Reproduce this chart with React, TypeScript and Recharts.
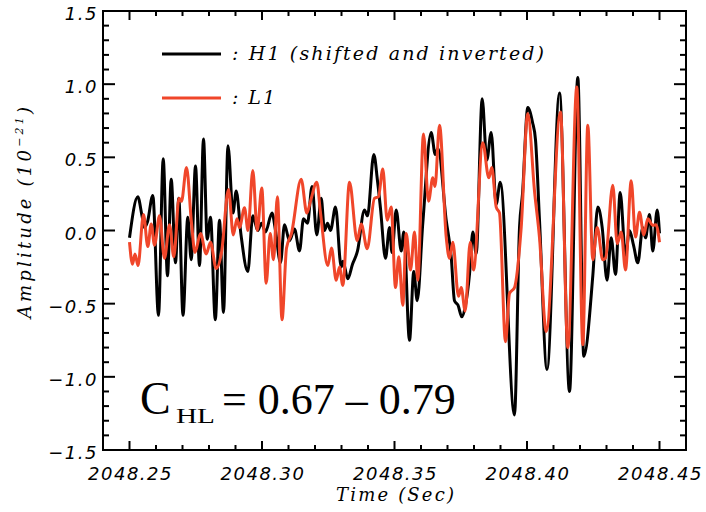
// H1 / L1 strain comparison chart
// Two overlaid waveforms, IDL-style boxed axes with inward ticks

import { LineChart, Line, XAxis, YAxis, ReferenceArea } from 'recharts'

// H1 (shifted and inverted), black
const h1Time = [
  2048.25, 2048.25313, 2048.25472, 2048.25566, 2048.25679, 2048.25879, 2048.26094, 2048.26272,
  2048.26434, 2048.26574, 2048.26736, 2048.2686, 2048.27019, 2048.272, 2048.27328, 2048.27491,
  2048.27642, 2048.27792, 2048.27932, 2048.28057, 2048.28238, 2048.28396, 2048.28547, 2048.28717,
  2048.28906, 2048.29026, 2048.29208, 2048.29464, 2048.29653, 2048.29842, 2048.29981, 2048.30132,
  2048.30377, 2048.30509, 2048.30698, 2048.30849, 2048.31038, 2048.31226, 2048.31415, 2048.31566,
  2048.31717, 2048.31887, 2048.32068, 2048.32234, 2048.32358, 2048.32472, 2048.32585, 2048.32774,
  2048.32989, 2048.33057, 2048.33238, 2048.33415, 2048.33604, 2048.33868, 2048.33981, 2048.34219,
  2048.34358, 2048.34472, 2048.3466, 2048.34811, 2048.34906, 2048.35064, 2048.35253, 2048.35351,
  2048.35566, 2048.35728, 2048.35857, 2048.36068, 2048.36385, 2048.36536, 2048.36642, 2048.36951,
  2048.3714, 2048.37264, 2048.37396, 2048.3754, 2048.37679, 2048.3783, 2048.37955, 2048.38083,
  2048.38309, 2048.38483, 2048.38649, 2048.38838, 2048.38989, 2048.39528, 2048.39717, 2048.3983,
  2048.4003, 2048.40208, 2048.40321, 2048.40472, 2048.40755, 2048.41226, 2048.41604, 2048.41917,
  2048.42143, 2048.42483, 2048.42672, 2048.42838, 2048.43019, 2048.43177, 2048.4334, 2048.43517,
  2048.43717, 2048.43868, 2048.44019, 2048.44181, 2048.4437, 2048.44472, 2048.44623, 2048.44747,
  2048.44913, 2048.45,
]
const h1Amp = [
  -0.05, 0.23, 0.1, 0.02, 0.06, 0.24, -0.58, 0.49,
  -0.31, 0.35, -0.22, 0.22, -0.58, 0.09, -0.2, 0.44,
  -0.24, 0.625, -0.06, 0.09, -0.61, 0.07, -0.56, 0.58,
  0.12, 0.27, -0.03, -0.28, 0.1, 0.0, 0.05, -0.01,
  0.12, 0.0, -0.22, 0.04, -0.07, 0.01, -0.14, 0.08,
  0.05, 0.3, -0.03, 0.22, 0.0, 0.05, 0.0, 0.16,
  -0.25, -0.21, -0.33, -0.23, -0.14, 0.14, 0.1, 0.52,
  0.34, 0.15, -0.19, 0.02, -0.15, 0.14, -0.14, -0.01,
  -0.75, -0.28, -0.48, 0.05, 0.67, 0.52, 0.56, 0.07,
  -0.18, -0.48, -0.51, -0.59, -0.51, -0.3, -0.01, -0.16,
  0.9, 0.48, 0.67, 0.18, 0.33, -1.26, 0.02, 0.25,
  0.84, 0.74, 0.62, 0.07, -0.95, 0.94, -1.1, 1.045,
  -0.86, -0.31, 0.16, 0.02, -0.34, -0.05, -0.3, 0.26,
  -0.17, 0.0, -0.1, -0.22, 0.02, -0.05, 0.11, -0.14,
  0.14, -0.02,
]

// L1, red
const l1Time = [
  2048.25, 2048.25113, 2048.25208, 2048.25321, 2048.25528, 2048.25691, 2048.25819, 2048.25943,
  2048.26132, 2048.26321, 2048.26509, 2048.26672, 2048.26868, 2048.26962, 2048.27151, 2048.2734,
  2048.27472, 2048.27679, 2048.27894, 2048.28057, 2048.28272, 2048.28472, 2048.28736, 2048.28917,
  2048.29057, 2048.29151, 2048.2934, 2048.29472, 2048.29653, 2048.29819, 2048.29992, 2048.30158,
  2048.30309, 2048.30434, 2048.30581, 2048.30755, 2048.30925, 2048.31113, 2048.31479, 2048.31691,
  2048.3183, 2048.32068, 2048.32208, 2048.32483, 2048.32623, 2048.328, 2048.32925, 2048.33049,
  2048.33302, 2048.33592, 2048.33743, 2048.3397, 2048.34245, 2048.34396, 2048.34558, 2048.34725,
  2048.34875, 2048.35038, 2048.35162, 2048.35313, 2048.35442, 2048.35604, 2048.35755, 2048.35879,
  2048.36094, 2048.36283, 2048.36445, 2048.36528, 2048.36698, 2048.36951, 2048.37075, 2048.372,
  2048.37415, 2048.37517, 2048.37668, 2048.37857, 2048.37981, 2048.38332, 2048.38558, 2048.38672,
  2048.38838, 2048.38962, 2048.39189, 2048.3934, 2048.39528, 2048.39781, 2048.4003, 2048.40283,
  2048.40472, 2048.40725, 2048.41264, 2048.4154, 2048.41879, 2048.42106, 2048.42294, 2048.42483,
  2048.42649, 2048.4286, 2048.42962, 2048.43238, 2048.43404, 2048.43555, 2048.43717, 2048.43932,
  2048.44094, 2048.44245, 2048.44408, 2048.44558, 2048.44747, 2048.44868, 2048.45,
]
const l1Amp = [
  -0.08, -0.23, -0.16, -0.24, 0.11, -0.11, 0.045, -0.1,
  0.1, -0.19, 0.04, -0.18, 0.22, 0.2, 0.43, 0.05,
  -0.15, -0.02, -0.16, -0.08, -0.26, -0.15, 0.28, -0.03,
  0.08, 0.02, 0.155, 0.0, 0.41, 0.0, 0.29, -0.36,
  -0.02, -0.2, 0.23, -0.61, -0.12, -0.02, 0.35, 0.12,
  0.2, 0.33, 0.12, -0.24, -0.12, -0.34, -0.25, -0.375,
  0.33, -0.07, 0.045, -0.125, 0.22, 0.23, 0.42, 0.07,
  0.16, -0.39, -0.18, -0.51, -0.02, -0.27, -0.01, -0.34,
  0.66, 0.2, 0.36, 0.3, 0.72, -0.045, -0.19, -0.08,
  -0.45, -0.39, -0.55, -0.08, -0.27, 0.6, 0.36, 0.43,
  0.16, 0.12, -0.76, -0.43, -0.39, 0.02, 0.8, 0.27,
  -0.05, -0.69, 0.81, -0.8, 0.98, -0.78, 0.72, -0.2,
  0.02, -0.2, -0.19, 0.31, -0.09, -0.01, -0.27, 0.34,
  -0.045, 0.125, -0.03, 0.08, 0.035, 0.04, -0.08,
]

const seriesNames = ['H1 (shifted and inverted)', 'L1']
const seriesColors = ['#000000', '#f0462a']

const xDomain = [2048.24, 2048.46]
const yDomain = [-1.5, 1.5]
const xLabels = [2048.25, 2048.3, 2048.35, 2048.4, 2048.45]
const xTicks = [
  2048.25, 2048.26, 2048.27, 2048.28, 2048.29, 2048.3, 2048.31, 2048.32, 2048.33, 2048.34, 2048.35,
  2048.36, 2048.37, 2048.38, 2048.39, 2048.4, 2048.41, 2048.42, 2048.43, 2048.44, 2048.45,
]
const yLabels = [-1.5, -1, -0.5, 0, 0.5, 1, 1.5]
const yTicks = [
  -1.5, -1.4, -1.3, -1.2, -1.1, -1, -0.9, -0.8, -0.7, -0.6, -0.5, -0.4, -0.3, -0.2, -0.1, 0,
  0.1, 0.2, 0.3, 0.4, 0.5, 0.6, 0.7, 0.8, 0.9, 1, 1.1, 1.2, 1.3, 1.4, 1.5,
]

const h1Data = h1Time.map((t, i) => ({ t, v: h1Amp[i] }))
const l1Data = l1Time.map((t, i) => ({ t, v: l1Amp[i] }))

const isIn = (list: number[], v: number) => list.some((l) => Math.abs(l - v) < 1e-6)

const tickFont = {
  fontFamily: 'DejaVu Sans',
  fontStyle: 'italic',
  fontSize: 18,
  letterSpacing: 1.5,
  fill: '#000',
}
const serifItalic = { fontFamily: 'DejaVu Serif', fontStyle: 'italic', fill: '#000' }

// bottom axis: inward tick + label
function BottomTick(props: any) {
  const { x, y, payload } = props
  const major = isIn(xLabels, payload.value)
  return (
    <g>
      <path d={`M${x},${y}V${y - (major ? 9 : 5)}`} stroke="black" strokeWidth={2} fill="none" />
      {major && (
        <text x={x + 1} y={y + 30} textAnchor="middle" {...tickFont}>
          {payload.value.toFixed(2)}
        </text>
      )}
    </g>
  )
}

function TopTick(props: any) {
  const { x, y, payload } = props
  const major = isIn(xLabels, payload.value)
  return <path d={`M${x},${y}V${y + (major ? 9 : 5)}`} stroke="black" strokeWidth={2} fill="none" />
}

function LeftTick(props: any) {
  const { x, y, payload } = props
  const major = isIn(yLabels, payload.value)
  return (
    <g>
      <path d={`M${x},${y}H${x + (major ? 12 : 6)}`} stroke="black" strokeWidth={2} fill="none" />
      {major && (
        <text x={x - 5} y={y + 9} textAnchor="end" {...tickFont}>
          {payload.value.toFixed(1).replace('-', '\u2212')}
        </text>
      )}
    </g>
  )
}

function RightTick(props: any) {
  const { x, y, payload } = props
  const major = isIn(yLabels, payload.value)
  return <path d={`M${x},${y}H${x - (major ? 12 : 6)}`} stroke="black" strokeWidth={2} fill="none" />
}

export default function App() {
  return (
    <div style={{ position: 'absolute', left: 0, top: 0, width: 706, height: 512, background: '#fff' }}>
      <LineChart width={706} height={512} margin={{ top: 10, right: 19, bottom: 0, left: 0 }}>
        <XAxis
          xAxisId={0}
          dataKey="t"
          type="number"
          domain={xDomain}
          ticks={xTicks}
          interval={0}
          tick={<BottomTick />}
          tickSize={0}
          tickMargin={0}
          tickLine={false}
          height={62}
          stroke="#000"
          axisLine={{ stroke: '#000', strokeWidth: 2 }}
          allowDataOverflow
        />
        <XAxis
          xAxisId="top"
          orientation="top"
          dataKey="t"
          type="number"
          domain={xDomain}
          ticks={xTicks}
          interval={0}
          tick={<TopTick />}
          tickSize={0}
          tickMargin={0}
          tickLine={false}
          height={1}
          stroke="#000"
          axisLine={{ stroke: '#000', strokeWidth: 2 }}
          allowDataOverflow
        />
        <YAxis
          yAxisId={0}
          type="number"
          domain={yDomain}
          ticks={yTicks}
          interval={0}
          tick={<LeftTick />}
          tickSize={0}
          tickMargin={0}
          tickLine={false}
          width={103}
          stroke="#000"
          axisLine={{ stroke: '#000', strokeWidth: 2 }}
          allowDataOverflow
        />
        <YAxis
          yAxisId="right"
          orientation="right"
          type="number"
          domain={yDomain}
          ticks={yTicks}
          interval={0}
          tick={<RightTick />}
          tickSize={0}
          tickMargin={0}
          tickLine={false}
          width={1}
          stroke="#000"
          axisLine={{ stroke: '#000', strokeWidth: 2 }}
          allowDataOverflow
        />
        {/* plot frame */}
        <ReferenceArea
          x1={xDomain[0]}
          x2={xDomain[1]}
          y1={yDomain[0]}
          y2={yDomain[1]}
          fill="none"
          stroke="#000"
          strokeWidth={2}
          ifOverflow="visible"
        />
        <Line
          data={h1Data}
          dataKey="v"
          name={seriesNames[0]}
          type="monotone"
          stroke={seriesColors[0]}
          strokeWidth={3}
          dot={false}
          isAnimationActive={false}
        />
        <Line
          data={l1Data}
          dataKey="v"
          name={seriesNames[1]}
          type="monotone"
          stroke={seriesColors[1]}
          strokeWidth={3}
          dot={false}
          isAnimationActive={false}
        />
      </LineChart>

      {/* legend, axis titles and the correlation note */}
      <svg width={706} height={512} style={{ position: 'absolute', left: 0, top: 0, pointerEvents: 'none' }}>
        {seriesNames.map((name, i) => (
          <g key={name}>
            <line x1={162} y1={54 + i * 44} x2={221} y2={54 + i * 44} stroke={seriesColors[i]} strokeWidth={3} />
            <text
              x={232}
              y={60 + i * 44}
              fontSize={19}
              textLength={i === 0 ? 312 : 43}
              lengthAdjust="spacing"
              {...serifItalic}
            >
              {': ' + name}
            </text>
          </g>
        ))}

        <text x={395} y={501} textAnchor="middle" fontSize={18} textLength={118} lengthAdjust="spacing" {...serifItalic}>
          Time (Sec)
        </text>

        <text transform="rotate(-90)" x={-211} y={31} textAnchor="middle" fontSize={18} letterSpacing={3.2} {...serifItalic}>
          Amplitude (10
          <tspan fontSize={11} dy={-8}>{'\u221221'}</tspan>
          <tspan fontSize={18} dy={8}>)</tspan>
        </text>

        <text x={140} y={414} fontSize={46} fontFamily="Liberation Serif" fill="#000">
          C
        </text>
        <text x={176} y={423} fontSize={20} textLength={39} lengthAdjust="spacingAndGlyphs" fontFamily="Liberation Serif" fill="#000">
          HL
        </text>
        <text x={222} y={414} fontSize={44} fontFamily="Liberation Serif" fill="#000">
          = 0.67 {'\u2013'} 0.79
        </text>
      </svg>
    </div>
  )
}
